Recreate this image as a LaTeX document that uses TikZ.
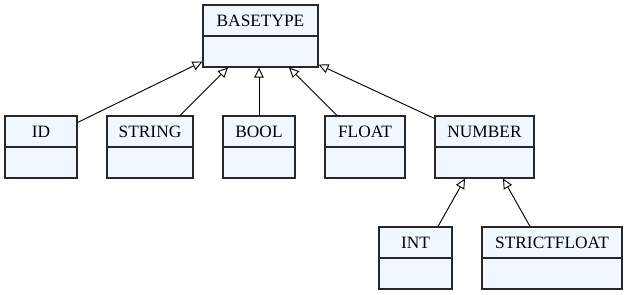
\documentclass[tikz,border=0pt]{standalone}
\usepackage{fontspec}
\setmainfont{Liberation Serif}
\usepackage{tikz}
\usetikzlibrary{positioning,calc,arrows.meta}

\definecolor{clsfill}{RGB}{240,247,255}
\definecolor{clsline}{RGB}{40,40,40}

\tikzset{
  cls/.style={draw=clsline, fill=clsfill, line width=0.8pt, inner sep=0pt,
    minimum height=23.25pt, font=\fontsize{13}{15}\selectfont},
  inh/.style={-{Triangle[open, length=7.5pt, width=7pt]}, line width=0.7pt}
}

\begin{document}
\begin{tikzpicture}[x=0.75pt, y=-0.75pt]

\useasboundingbox (0,0) rectangle (630,295);

% class boxes: head with name, empty body below
\node[cls, minimum width=86.25pt] (basetype) at (260.5,20.5) {BASETYPE};
\node[cls, minimum width=86.25pt, below=-0.8pt of basetype] (basetype-body) {};

\node[cls, minimum width=54pt] (id) at (41,131.5) {ID};
\node[cls, minimum width=54pt, below=-0.8pt of id] (id-body) {};

\node[cls, minimum width=64.5pt] (string) at (150,131.5) {STRING};
\node[cls, minimum width=64.5pt, below=-0.8pt of string] (string-body) {};

\node[cls, minimum width=54pt] (bool) at (259,131.5) {BOOL};
\node[cls, minimum width=54pt, below=-0.8pt of bool] (bool-body) {};

\node[cls, minimum width=60pt] (float) at (365,131.5) {FLOAT};
\node[cls, minimum width=60pt, below=-0.8pt of float] (float-body) {};

\node[cls, minimum width=74.25pt] (number) at (484.5,131.5) {NUMBER};
\node[cls, minimum width=74.25pt, below=-0.8pt of number] (number-body) {};

\node[cls, minimum width=54.75pt] (int) at (415.5,242.5) {INT};
\node[cls, minimum width=54.75pt, below=-0.8pt of int] (int-body) {};

\node[cls, minimum width=105pt] (strictfloat) at (552,242.5) {STRICTFLOAT};
\node[cls, minimum width=105pt, below=-0.8pt of strictfloat] (strictfloat-body) {};

% inheritance
\draw[inh] ($(id.north east)+(0,7)$) -- ($(basetype-body.south west)+(0,-6)$);
\draw[inh] ($(string.north)+(30,0)$) -- ($(basetype-body.south)+(-32.5,0)$);
\draw[inh] (bool.north) -- (bool.north |- basetype-body.south);
\draw[inh] ($(float.north)+(-28,0)$) -- ($(basetype-body.south)+(28.5,0)$);
\draw[inh] ($(number.north west)+(0,3)$) -- ($(basetype-body.south east)+(0,-3)$);

\draw[inh] ($(int.north)+(22.5,0)$) -- ($(number-body.south)+(-19.5,0)$);
\draw[inh] ($(strictfloat.north)+(-22,0)$) -- ($(number-body.south)+(18.5,0)$);

\end{tikzpicture}
\end{document}
